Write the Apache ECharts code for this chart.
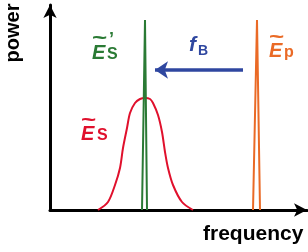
<!DOCTYPE html>
<html>
<head>
  <meta charset="utf-8" />
  <script src="https://cdn.jsdelivr.net/npm/echarts@6/dist/echarts.min.js"></script>
</head>
<body style="margin:0; background:#fff">
  <div id="main" style="width:308px; height:252px;"></div>
  <script type="text/javascript">
    // frequency (x) / power (y) in arbitrary units
    var signalX = [48, 58, 65, 70, 73, 77, 80, 85, 90, 95, 100, 103, 108, 112, 115, 118, 123, 132, 143];
    var signalY = [0, 8, 25, 42, 62, 82, 97, 107, 111, 112, 111, 107, 95, 78, 58, 42, 25, 8, 0];
    var stokesX = [92, 95, 97];
    var stokesY = [0, 190, 0];
    var pumpX = [203, 207, 210];
    var pumpY = [0, 190, 0];
    var shiftFrom = [193, 140];
    var shiftTo = [105, 140];

    function pairs(xs, ys) { return xs.map(function(x, i) { return [x, ys[i]]; }); }

    var myChart = echarts.init(document.getElementById('main'), null, {renderer: 'canvas'});
    var ff = 'Liberation Sans, Arial, sans-serif';
    var RED = '#e0102c', GREEN = '#2a7a34', ORANGE = '#ea6a26', BLUE = '#2f47a0';

    function txt(s, x, y, size, color, italic, extra) {
      var o = {type: 'text', x: x, y: y, silent: true,
        style: {text: s, fill: color, font: (italic ? 'italic ' : '') + 'bold ' + size + 'px ' + ff,
                textVerticalAlign: 'middle'}};
      if (extra) for (var k in extra) o[k] = extra[k];
      return o;
    }
    function tilde(x, y, color) {
      return txt('~', x, y, 20, color, false, {scaleX: 1.3});
    }

    var option = {
      animation: false,
      grid: {left: 50, right: 1, top: 5, bottom: 42},
      xAxis: {type: 'value', min: 0, max: 257,
        axisLine: {show: true, onZero: false, symbol: ['none', 'arrow'], symbolSize: [10, 13],
                   lineStyle: {color: '#000', width: 3}},
        axisTick: {show: false}, axisLabel: {show: false}, splitLine: {show: false}},
      yAxis: {type: 'value', min: 0, max: 205,
        axisLine: {show: true, onZero: false, symbol: ['none', 'arrow'], symbolSize: [10, 13],
                   lineStyle: {color: '#000', width: 3}},
        axisTick: {show: false}, axisLabel: {show: false}, splitLine: {show: false}},
      series: [
        {type: 'line', data: pairs(signalX, signalY), smooth: 0.3, smoothMonotone: 'none', showSymbol: false,
         lineStyle: {color: RED, width: 2}},
        {type: 'line', data: pairs(stokesX, stokesY), showSymbol: false,
         lineStyle: {color: GREEN, width: 2}},
        {type: 'line', data: pairs(pumpX, pumpY), showSymbol: false,
         lineStyle: {color: ORANGE, width: 2}},
        {type: 'line', data: [], markLine: {silent: true, symbol: ['none', 'arrow'], symbolSize: [13, 13],
          label: {show: false}, lineStyle: {color: BLUE, width: 3.5, type: 'solid'},
          data: [[{coord: shiftFrom}, {coord: shiftTo}]]}}
      ],
      graphic: [
        {type: 'text', x: 13, y: 33, rotation: Math.PI / 2, silent: true,
         style: {text: 'power', fill: '#000', font: 'bold 20px ' + ff, textAlign: 'center', textVerticalAlign: 'middle'}},
        txt('frequency', 203, 234, 21, '#000', false),
        // E's (green)
        tilde(92, 38, GREEN),
        txt('E', 92, 53, 20, GREEN, true),
        txt('\u2019', 109, 40, 18, GREEN, false),
        txt('S', 107, 55, 16, GREEN, false),
        // Es (red)
        tilde(81, 120, RED),
        txt('E', 81, 134, 20, RED, true),
        txt('S', 97, 136, 16, RED, false),
        // Ep (orange)
        tilde(269, 37, ORANGE),
        txt('E', 269, 51, 20, ORANGE, true),
        txt('p', 284, 53, 16, ORANGE, false),
        // fB (blue)
        txt('f', 189, 45, 21, BLUE, true),
        txt('B', 198, 51, 14, BLUE, false)
      ]
    };
    myChart.setOption(option);
  </script>
</body>
</html>
